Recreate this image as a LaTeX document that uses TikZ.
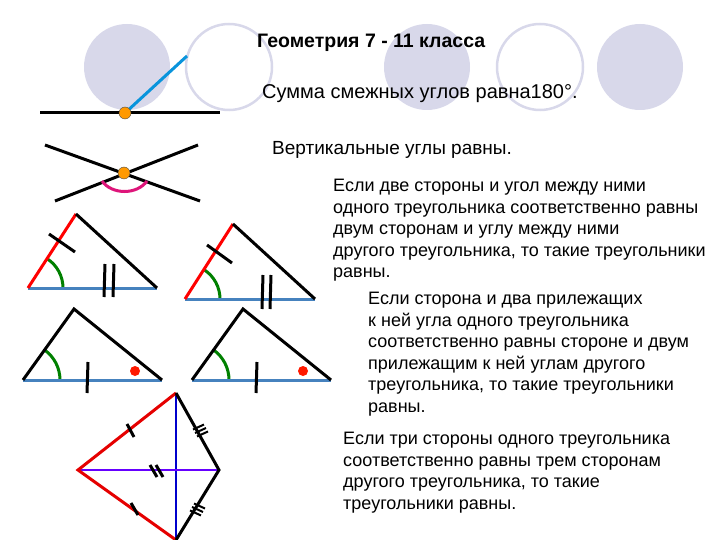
\documentclass[tikz,border=0pt]{standalone}
\usepackage{fontspec}
\setmainfont{Liberation Sans}
\usetikzlibrary{calc}
\begin{document}
\begin{tikzpicture}[x=1pt,y=-1pt,
 txt/.style={anchor=north west,inner sep=0pt,align=left,font=\fontsize{18}{21.5}\selectfont},
 fillc/.style={fill=lav,draw=none},
 openc/.style={draw=lav,line width=2.5pt},
 blk/.style={line width=3pt,black},
 tick/.style={line width=3pt,black},
 ang/.style={line width=3pt,green!50!black},
 dotp/.style={circle,fill=orange!80!yellow,draw=black!70,inner sep=0pt,minimum size=12pt}]
\definecolor{lav}{RGB}{216,216,234}
\definecolor{bl}{RGB}{70,130,190}
\useasboundingbox (0,0) rectangle (720,540);
\fill[fillc] (127,67) circle (43);
\draw[openc] (229,67) circle (43);
\fill[fillc] (427,67) circle (43);
\draw[openc] (540,67) circle (43);
\fill[fillc] (640,67) circle (43);
% adjacent angles
\coordinate (l1) at (40,113); \coordinate (l2) at (220,113); \coordinate (c1) at (187,56);
\draw[blk] (l1) -- (l2);
\draw[line width=3pt,cyan!80!blue] (125,113) -- (c1);
\node[dotp] (p1) at (125,113) {};
% vertical angles
\coordinate (x1) at (45,145); \coordinate (x2) at (200,201);
\coordinate (x3) at (55,201); \coordinate (x4) at (198,145);
\draw[blk] (x1) -- (x2); \draw[blk] (x3) -- (x4);
\draw[line width=3pt,magenta!70!purple] (102,181) .. controls (112,195) and (137,195) .. (147,181);
\node[dotp] (p2) at (124,173) {};
% triangle 1
\coordinate (a1) at (28,288); \coordinate (b1) at (76,214); \coordinate (c1b) at (157,288);
\draw[ang] (63,288) arc (0:-57:35);
\draw[line width=3pt,bl] (a1) -- (c1b);
\draw[line width=3pt,red] (a1) -- (b1);
\draw[blk] (b1) -- (c1b);
\draw[tick] (49,234) -- (75,252);
\draw[tick] (105,264) -- (104,297); \draw[tick] (114,264) -- (113,297);
% triangle 2
\coordinate (a2) at (185,299); \coordinate (b2) at (233,224); \coordinate (c2) at (315,299);
\draw[ang] (220,299) arc (0:-57:35);
\draw[line width=3pt,bl] (a2) -- (c2);
\draw[line width=3pt,red] (a2) -- (b2);
\draw[blk] (b2) -- (c2);
\draw[tick] (207,245) -- (232,263);
\draw[tick] (263,275) -- (262,309); \draw[tick] (271,275) -- (270,309);
% triangle 3
\coordinate (a3) at (23,380); \coordinate (b3) at (74,309); \coordinate (c3) at (162,380);
\draw[ang] (60,380) arc (0:-54:37);
\draw[line width=3pt,bl] (a3) -- (c3);
\draw[blk] (a3) -- (b3) -- (c3);
\draw[tick] (88,362) -- (87,393);
\fill[red!80!orange] (135,371) circle (5);
% triangle 4
\coordinate (a4) at (192,380); \coordinate (b4) at (243,309); \coordinate (c4) at (331,380);
\draw[ang] (229,380) arc (0:-54:37);
\draw[line width=3pt,bl] (a4) -- (c4);
\draw[blk] (a4) -- (b4) -- (c4);
\draw[tick] (257,362) -- (256,393);
\fill[red!80!orange] (303,371) circle (5);
% kite
\coordinate (kl) at (78,470); \coordinate (kt) at (176,393); \coordinate (kr) at (219,470); \coordinate (kb) at (176,540);
\draw[line width=2pt,blue!80!black] (kt) -- (kb);
\draw[line width=2pt,blue!60!magenta] (kl) -- (kr);
\draw[line width=3pt,red!90!black] (kt) -- (kl) -- (kb);
\draw[blk] (kt) -- (kr) -- (kb);
\draw[tick] (127,424) -- (134,437);
\draw[tick] (131,503) -- (138,515);
\draw[tick] (150,465) -- (157,477); \draw[tick] (156,465) -- (163,477);
\foreach \d in {-4,0,4} {\draw[line width=2pt] ($(195,433)+(\d*0.5,\d*0.87)$) -- ++(11,-5);}
\foreach \d in {-4,0,4} {\draw[line width=2pt] ($(192,507)+(\d*0.5,-\d*0.87)$) -- ++(11,5);}
% texts
\node[txt,font=\bfseries\fontsize{19.5}{22}\selectfont] (t0) at (257,34) {Геометрия 7 - 11 класса};
\node[txt,font=\fontsize{20}{22}\selectfont] (t1) at (262,84) {Сумма смежных углов равна180°.};
\node[txt,font=\fontsize{19}{22}\selectfont] (t2) at (272,141) {Вертикальные углы равны.};
\node[txt] (t3) at (333,179) {Если две стороны и угол между ними\\одного треугольника соответственно равны\\двум сторонам и углу между ними\\другого треугольника, то такие треугольники\\равны.};
\node[txt] (t4) at (368,292) {Если  сторона и  два  прилежащих\\к ней угла одного треугольника\\соответственно равны стороне и  двум\\прилежащим  к ней углам другого\\треугольника, то такие треугольники\\равны.};
\node[txt] (t5) at (343,432) {Если  три стороны одного треугольника\\соответственно равны трем сторонам\\другого треугольника, то такие\\треугольники равны.};
\end{tikzpicture}
\end{document}
